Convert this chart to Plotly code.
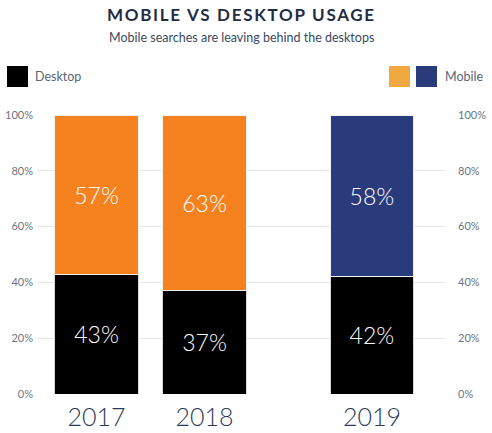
import plotly.graph_objects as go

years = ["2017", "2018", "2019"]
desktop = [43, 37, 42]
mobile = [57, 63, 58]
mobile_colors = ["#F5821F", "#F5821F", "#2A3B7B"]
y_ticks = [0, 20, 40, 60, 80, 100]

# layout positions of the year slots on a numeric axis (2019 set apart)
slot = [0, 1, 2.55]

FONT = "Lato"
fig = go.Figure()
fig.add_trace(go.Bar(
    x=slot, y=desktop, width=0.77, marker=dict(color="#000000", line=dict(color="#d9d9d9", width=1)),
    text=[f"{v}%" for v in desktop], textposition="inside", insidetextanchor="middle",
    textfont=dict(color="white", size=23, family=FONT, weight=300), name="Desktop", hoverinfo="skip"))
fig.add_trace(go.Bar(
    x=slot, y=mobile, width=0.77, marker=dict(color=mobile_colors, line=dict(color="#f2f2f2", width=1)),
    text=[f"{v}%" for v in mobile], textposition="inside", insidetextanchor="middle",
    textfont=dict(color="white", size=23, family=FONT, weight=300), name="Mobile", hoverinfo="skip"))
fig.add_trace(go.Scatter(x=[slot[0]], y=[0], yaxis="y2", mode="markers",
                         marker=dict(opacity=0), showlegend=False, hoverinfo="skip"))

tick_text = [f"{t}%" for t in y_ticks]
fig.update_layout(
    width=492, height=433, barmode="stack", showlegend=False,
    paper_bgcolor="white", plot_bgcolor="white",
    margin=dict(l=37, r=47, t=115, b=39),
    font=dict(family=FONT),
    xaxis=dict(range=[-0.551, 3.227], tickvals=slot, ticktext=years, showgrid=False,
               zeroline=False, showline=False, ticks="", automargin=False,
               ticklabelstandoff=6,
               tickfont=dict(size=25, color="#2B3A55", family=FONT, weight=300)),
    yaxis=dict(range=[0, 100], tickvals=y_ticks, ticktext=tick_text, showgrid=True,
               gridcolor="#e6e6e6", gridwidth=1, zeroline=False, showline=False,
               automargin=False,
               tickfont=dict(size=11, color="#6B7585", family=FONT), ticklabelstandoff=3),
    yaxis2=dict(range=[0, 100], tickvals=y_ticks, ticktext=tick_text, overlaying="y",
                side="right", showgrid=False, zeroline=False, showline=False,
                automargin=False,
                tickfont=dict(size=11, color="#6B7585", family=FONT), ticklabelstandoff=12),
)

ph = 433 - 115 - 39
pw = 492 - 37 - 47
def px_x(px):
    return (px - 37) / pw
def px_y(py):
    return (433 - 39 - py) / ph

# title & subtitle
fig.add_annotation(xref="paper", yref="paper", x=0.5, xanchor="center", yanchor="middle",
                   y=px_y(15),
                   text='<b><span style="letter-spacing:1.7px">MOBILE VS DESKTOP USAGE</span></b>',
                   showarrow=False, font=dict(size=17, color="#1F2D45", family=FONT))
fig.add_annotation(xref="paper", yref="paper", x=0.5, xanchor="center", yanchor="middle",
                   y=px_y(38),
                   text="Mobile searches are leaving behind the desktops",
                   showarrow=False, font=dict(size=12.5, color="#3A4A60", family=FONT))

# custom legend
for (x0, col) in [(7, "#000000"), (389, "#F0A840"), (416, "#2A3B7B")]:
    fig.add_shape(type="rect", xref="paper", yref="paper",
                  x0=px_x(x0), x1=px_x(x0 + 21), y0=px_y(87), y1=px_y(66),
                  fillcolor=col, line=dict(width=0))
fig.add_annotation(xref="paper", yref="paper", x=px_x(33), y=px_y(76.5), xanchor="left",
                   yanchor="middle", text="Desktop", showarrow=False,
                   font=dict(size=12.5, color="#5A6475", family=FONT))
fig.add_annotation(xref="paper", yref="paper", x=px_x(443), y=px_y(76.5), xanchor="left",
                   yanchor="middle", text="Mobile", showarrow=False,
                   font=dict(size=12.5, color="#5A6475", family=FONT))

fig.write_html("out.html")
